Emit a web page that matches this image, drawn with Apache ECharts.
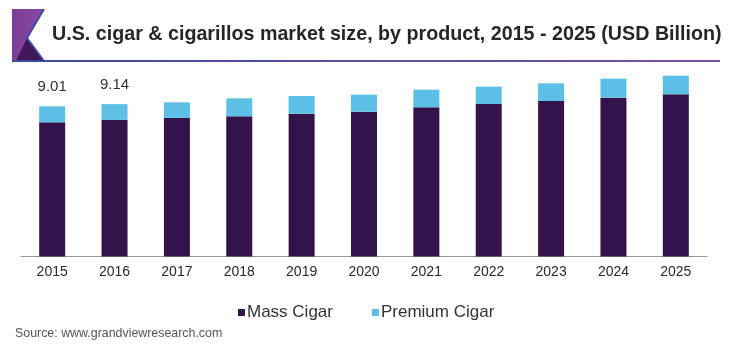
<!DOCTYPE html>
<html>
<head>
<meta charset="utf-8">
<script src="https://cdn.jsdelivr.net/npm/echarts@6/dist/echarts.min.js"></script>
<style>
  html, body { margin: 0; padding: 0; background: #fff; }
  #chart { width: 730px; height: 349px; }
</style>
</head>
<body>
<div id="chart"></div>
<script>
const years = ['2015', '2016', '2017', '2018', '2019', '2020', '2021', '2022', '2023', '2024', '2025']
const massCigar = [8.05, 8.20, 8.32, 8.41, 8.57, 8.69, 8.95, 9.15, 9.33, 9.53, 9.73]
const premiumCigar = [0.96, 0.94, 0.93, 1.08, 1.06, 1.02, 1.06, 1.04, 1.06, 1.14, 1.12]
// only the first two totals are printed on the chart
const totalLabels = ['9.01', '9.14']

const font = 'Liberation Sans, Arial, sans-serif'
const chart = echarts.init(document.getElementById('chart'))

chart.setOption({
  animation: false,
  textStyle: { fontFamily: font },
  grid: {
    left: 21,
    right: 23,
    top: 56.5,
    bottom: 92.5
  },
  xAxis: {
    type: 'category',
    data: years,
    axisLine: { lineStyle: { color: '#9a9a9a', width: 1 } },
    axisTick: { show: false },
    axisLabel: { color: '#2a2a2a', fontSize: 14, margin: 9, fontFamily: font }
  },
  yAxis: {
    type: 'value',
    min: 0,
    max: 12,
    show: false,
    splitLine: { show: false }
  },
  legend: {
    left: 233,
    top: 299,
    itemWidth: 7,
    itemHeight: 7,
    itemGap: 39,
    icon: 'rect',
    textStyle: { fontSize: 17, color: '#333', fontFamily: font, padding: [0, 0, 0, -3] },
    data: ['Mass Cigar', 'Premium Cigar']
  },
  series: [{
    name: 'Mass Cigar',
    type: 'bar',
    stack: 'total',
    barWidth: 26,
    itemStyle: { color: '#33144a' },
    data: massCigar
  }, {
    name: 'Premium Cigar',
    type: 'bar',
    stack: 'total',
    barWidth: 26,
    itemStyle: { color: '#5bbfe6' },
    label: {
      show: true,
      position: 'top',
      distance: 12,
      fontSize: 15,
      color: '#333',
      fontFamily: font,
      formatter: p => totalLabels[p.dataIndex] || ''
    },
    data: premiumCigar
  }],
  graphic: [
    // header decoration
    {
      type: 'polygon',
      shape: { points: [[12, 9], [44, 9], [27, 38], [44, 61], [12, 61]] },
      style: {
        fill: new echarts.graphic.LinearGradient(0, 0, 1, 0, [
          { offset: 0, color: '#7b3d96' },
          { offset: 1, color: '#8a4aa6' }
        ])
      }
    },
    {
      type: 'polygon',
      shape: { points: [[27, 38], [44, 61], [16, 61]] },
      style: { fill: '#3f1858' }
    },
    {
      type: 'polyline',
      shape: { points: [[44, 9], [27, 38], [44, 61]] },
      style: { stroke: '#3c4aa0', lineWidth: 2, fill: null }
    },
    {
      type: 'rect',
      shape: { x: 12, y: 60, width: 708, height: 2 },
      style: {
        fill: new echarts.graphic.LinearGradient(0, 0, 1, 0, [
          { offset: 0, color: '#3c4aa0' },
          { offset: 1, color: '#7a4fa8' }
        ])
      }
    },
    {
      type: 'text',
      left: 52,
      top: 25,
      style: {
        text: 'U.S. cigar & cigarillos market size, by product, 2015 - 2025 (USD Billion)',
        fontSize: 19.7,
        fontWeight: 'bold',
        fill: '#262626',
        fontFamily: font
      }
    },
    {
      type: 'text',
      left: 15,
      top: 328,
      style: {
        text: 'Source: www.grandviewresearch.com',
        fontSize: 12.4,
        fill: '#555',
        fontFamily: font
      }
    }
  ]
})
</script>
</body>
</html>
